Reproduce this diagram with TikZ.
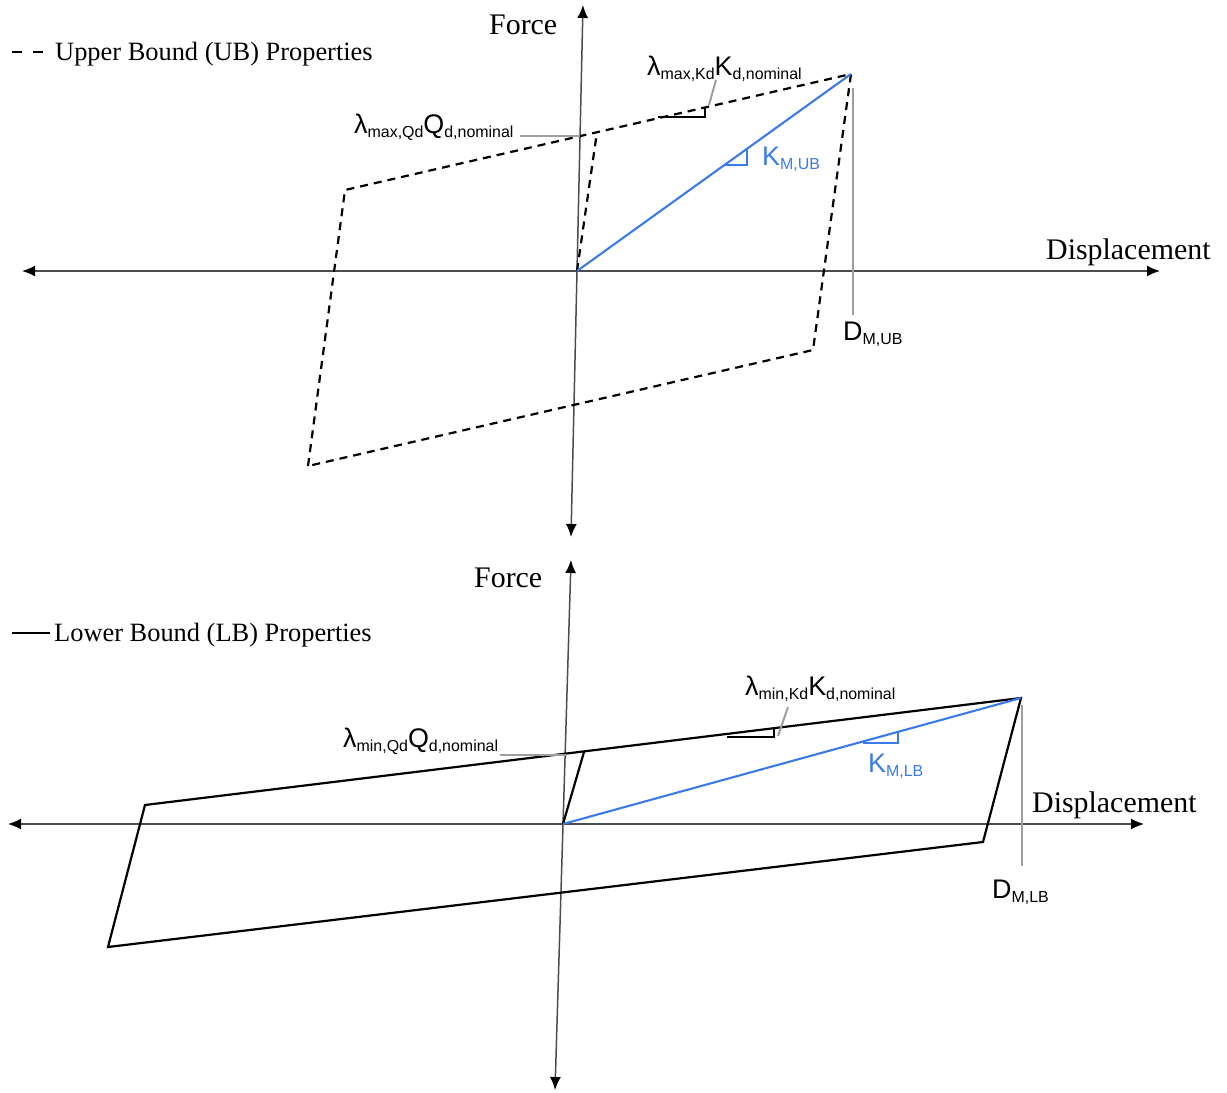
\documentclass[tikz,border=0pt]{standalone}
\usepackage{fontspec}
\setmainfont{Liberation Serif}
\newfontfamily\sansf{Liberation Sans}
\usetikzlibrary{arrows.meta}
\newcommand\sbs[1]{\raisebox{-4.5bp}{\fontsize{16}{18}\selectfont #1}}
\begin{document}
\begin{tikzpicture}[x=1bp,y=-1bp,
  axis/.style={draw=black!70, line width=1.5bp, {Latex[length=13bp,width=11bp,color=black]}-{Latex[length=13bp,width=11bp,color=black]}},
  loopline/.style={draw=black, line width=2.2bp, line join=miter},
  ubline/.style={loopline, dash pattern=on 8bp off 6bp},
  bl/.style={draw=kblue, line width=2.1bp},
  lead/.style={draw=black!38, line width=2bp},
  serif/.style={font=\fontsize{30}{36}\selectfont, inner sep=0, anchor=base west},
  legtxt/.style={font=\fontsize{26.5}{30}\selectfont, inner sep=0, anchor=base west},
  sym/.style={font=\sansf\fontsize{27}{32}\selectfont, inner sep=0, anchor=base west},
]
\definecolor{kblue}{RGB}{58,122,235}
\useasboundingbox (0,0) rectangle (1227,1093);

% ---------------- Upper bound plot ----------------
\coordinate (uxl) at (22,271); \coordinate (uxr) at (1160,271);
\coordinate (uyt) at (583,5);  \coordinate (uyb) at (571,537);
\draw[axis] (uxl) -- (uxr);
\draw[axis] (uyb) -- (uyt);

\coordinate (uo) at (577,271);
\coordinate (ua) at (345,190);
\coordinate (ub) at (851,74);
\coordinate (uc) at (813,350);
\coordinate (ud) at (308,466);
\coordinate (ue) at (597,132);
\draw[ubline] (ud) -- (ua) -- (ub) -- (uc) -- cycle;
\draw[ubline] (uo) -- (ue);
\draw[bl] (uo) -- (ub);

% slope triangles
\coordinate (ut1) at (658,117); \coordinate (ut2) at (705,117); \coordinate (ut3) at (705,107);
\draw[draw=black, line width=2.4bp] (ut1) -- (ut2) -- (ut3);
\coordinate (ubt1) at (725,165); \coordinate (ubt2) at (747,165); \coordinate (ubt3) at (747,149);
\draw[bl] (ubt1) -- (ubt2) -- (ubt3);

% labels & leaders
\node[serif] (uforce) at (489,34) {Force};
\node[serif] (udisp) at (1046,259) {Displacement};
\node[sym] (uq) at (354,133) {λ\sbs{max,Qd}Q\sbs{d,nominal}};
\node[sym] (uk) at (647,75) {λ\sbs{max,Kd}K\sbs{d,nominal}};
\node[sym, text=kblue] (ukm) at (762,165) {K\sbs{M,UB}};
\node[sym] (udm) at (843,340) {D\sbs{M,UB}};
\coordinate (uql1) at (520,136); \coordinate (uql2) at (580,136);
\draw[lead] (uql1) -- (uql2);
\coordinate (ukl1) at (709,105); \coordinate (ukl2) at (716,80);
\draw[lead] (ukl1) -- (ukl2);
\coordinate (udl1) at (853,88); \coordinate (udl2) at (853,315);
\draw[lead] (udl1) -- (udl2);

% legend
\coordinate (ulg1) at (12,52); \coordinate (ulg2) at (45,52);
\draw[draw=black, line width=2.8bp, dash pattern=on 10bp off 11bp] (ulg1) -- (ulg2);
\node[legtxt] (uleg) at (55,60) {Upper Bound (UB) Properties};

% ---------------- Lower bound plot ----------------
\coordinate (lxl) at (8,824); \coordinate (lxr) at (1144,824);
\coordinate (lyt) at (571,560); \coordinate (lyb) at (555,1090);
\draw[axis] (lxl) -- (lxr);
\draw[axis] (lyb) -- (lyt);

\coordinate (lo) at (563,824);
\coordinate (la) at (145,805);
\coordinate (lb) at (1021,698);
\coordinate (lc) at (983,842);
\coordinate (ld) at (108,947);
\coordinate (le) at (584,752);
\draw[loopline] (ld) -- (la) -- (lb) -- (lc) -- cycle;
\draw[loopline] (lo) -- (le);
\draw[bl] (lo) -- (lb);

\coordinate (lt1) at (727,737); \coordinate (lt2) at (774,737); \coordinate (lt3) at (774,728);
\draw[draw=black, line width=1.8bp] (lt1) -- (lt2) -- (lt3);
\coordinate (lbt1) at (863,743); \coordinate (lbt2) at (898,743); \coordinate (lbt3) at (898,732);
\draw[bl] (lbt1) -- (lbt2) -- (lbt3);

\node[serif] (lforce) at (474,587) {Force};
\node[serif] (ldisp) at (1032,812) {Displacement};
\node[sym] (lq) at (343,747) {λ\sbs{min,Qd}Q\sbs{d,nominal}};
\node[sym] (lk) at (745,695) {λ\sbs{min,Kd}K\sbs{d,nominal}};
\node[sym, text=kblue] (lkm) at (868,772) {K\sbs{M,LB}};
\node[sym] (ldm) at (992,898) {D\sbs{M,LB}};
\coordinate (lql1) at (500,755); \coordinate (lql2) at (567,755);
\draw[lead] (lql1) -- (lql2);
\coordinate (lkl1) at (778,736); \coordinate (lkl2) at (788,707);
\draw[lead] (lkl1) -- (lkl2);
\coordinate (ldl1) at (1022,705); \coordinate (ldl2) at (1022,866);
\draw[lead] (ldl1) -- (ldl2);

\coordinate (llg1) at (12,633); \coordinate (llg2) at (50,633);
\draw[draw=black, line width=2.8bp] (llg1) -- (llg2);
\node[legtxt] (lleg) at (54,641) {Lower Bound (LB) Properties};
\end{tikzpicture}
\end{document}
